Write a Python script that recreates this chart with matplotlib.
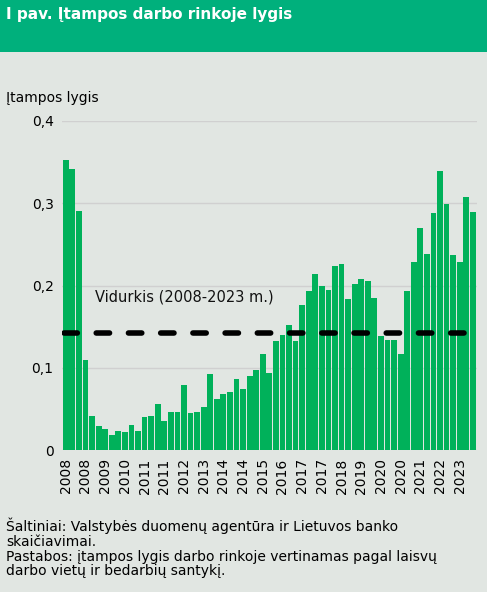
import matplotlib.pyplot as plt
from matplotlib.patches import Rectangle

values = [0.353, 0.342, 0.290, 0.109, 0.041, 0.029, 0.026, 0.018, 0.023, 0.022,
          0.030, 0.023, 0.040, 0.041, 0.056, 0.035, 0.046, 0.046, 0.079, 0.045,
          0.046, 0.052, 0.093, 0.062, 0.068, 0.070, 0.086, 0.074, 0.090, 0.097,
          0.117, 0.094, 0.133, 0.140, 0.152, 0.133, 0.176, 0.193, 0.214, 0.199,
          0.194, 0.224, 0.226, 0.184, 0.202, 0.208, 0.206, 0.185, 0.138, 0.134,
          0.134, 0.117, 0.193, 0.229, 0.270, 0.238, 0.288, 0.339, 0.299, 0.237,
          0.229, 0.308, 0.289]
tick_labels = ["2008", "2008", "2009", "2010", "2011", "2011", "2012", "2013",
               "2014", "2014", "2015", "2016", "2017", "2017", "2018", "2019",
               "2020", "2020", "2021", "2022", "2023"]
mean_value = 0.142

bg = "#e1e6e2"
green = "#00b15a"

fig = plt.figure(figsize=(4.87, 5.92), dpi=100, facecolor=bg)
fig.patches.append(Rectangle((0, 1 - 52 / 592), 1, 52 / 592, transform=fig.transFigure,
                             facecolor="#00b07c", edgecolor="none"))
fig.text(0.012, 1 - 14 / 592, "I pav. Įtampos darbo rinkoje lygis", color="white",
         fontsize=11, fontweight="bold", va="center")

ax = fig.add_axes([0.127, 1 - 450 / 592, 0.852, 329 / 592])
ax.set_facecolor(bg)
x = list(range(len(values)))
ax.bar(x, values, width=0.88, color=green)
ax.plot([-0.2, 61.3], [mean_value, mean_value], color="black", lw=4,
        dashes=(2.4, 3.4), solid_capstyle="round", dash_capstyle="round")
ax.text(4.5, 0.18, "Vidurkis (2008-2023 m.)", fontsize=10.5, color="#111111")
ax.set_xlim(-0.6, len(values) - 0.4)
ax.set_ylim(0, 0.4)
ax.set_yticks([0, 0.1, 0.2, 0.3, 0.4])
ax.set_yticklabels(["0", "0,1", "0,2", "0,3", "0,4"], fontsize=10)
ax.set_xticks(x[::3])
ax.set_xticklabels(tick_labels, rotation=90, fontsize=10)
ax.tick_params(length=0, pad=6)
ax.grid(axis="y", color="#d0d0d0", lw=1)
ax.set_axisbelow(True)
for s in ax.spines.values():
    s.set_visible(False)
fig.text(0.012, 1 - 98 / 592, "Įtampos lygis", fontsize=10, va="center")

fig.text(0.012, 1 - 518 / 592,
         "Šaltiniai: Valstybės duomenų agentūra ir Lietuvos banko\nskaičiavimai.\n"
         "Pastabos: įtampos lygis darbo rinkoje vertinamas pagal laisvų\n"
         "darbo vietų ir bedarbių santykį.",
         fontsize=10, va="top", linespacing=1.05)

fig.savefig("out.png", dpi=100, facecolor=bg)
